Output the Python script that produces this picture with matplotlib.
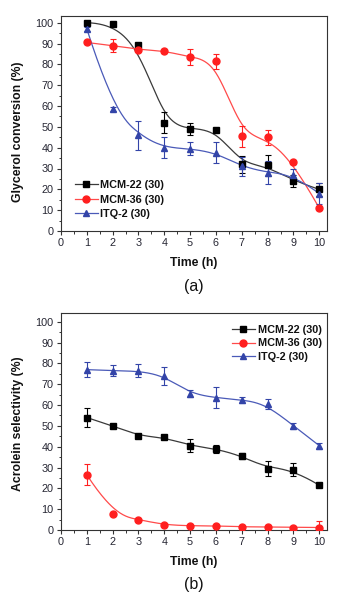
import numpy as np
import matplotlib
matplotlib.use("Agg")
import matplotlib.pyplot as plt
from matplotlib.lines import Line2D
from matplotlib.ticker import MultipleLocator

plt.rcParams['font.family'] = ['Liberation Sans', 'DejaVu Sans']

time_h = [1, 2, 3, 4, 5, 6, 7, 8, 9, 10]
series_names = ["MCM-22 (30)", "MCM-36 (30)", "ITQ-2 (30)"]

# Glycerol conversion (%) and error bars
conv_mcm22 = [100, 99.5, 89.5, 52, 49, 48.5, 32, 31.5, 24, 20]
conv_mcm22_err = [0.5, 0.5, 0.5, 5, 3, 0.5, 4, 5, 3, 3]
conv_mcm36 = [90.5, 89, 87, 86.5, 83.5, 81.5, 45.5, 45, 33, 11]
conv_mcm36_err = [0.5, 3, 0.5, 1, 4, 3.5, 5, 3.5, 1, 1]
conv_itq2 = [97, 58.5, 46, 40, 39.5, 37.5, 31, 28, 27, 18]
conv_itq2_err = [1, 1, 7, 5, 3, 5, 4.5, 5.5, 3, 5]

# Acrolein selectivity (%) and error bars
sel_mcm22 = [54, 50, 45, 44.5, 40.5, 39, 35.5, 29.5, 29, 21.5]
sel_mcm22_err = [4.5, 0.5, 0.5, 0.5, 3, 2, 1.5, 3.5, 3, 1]
sel_mcm36 = [26.5, 7.5, 5, 2.5, 2, 2, 1.5, 1.5, 1.2, 1.2]
sel_mcm36_err = [5, 0.5, 0.5, 0.5, 0.5, 0.5, 0.5, 0.5, 0.5, 3]
sel_itq2 = [77, 76.5, 76.5, 74, 65.5, 63.5, 62.5, 60.5, 50, 40.5]
sel_itq2_err = [3.5, 2.5, 3, 4.5, 1.5, 5, 1.5, 2.5, 1.5, 1.5]

marker_colors = ["#000000", "#ff1f1f", "#3344a8"]
line_colors = ["#3a3a3a", "#ff4a4a", "#4a5ab8"]
markers = ["s", "o", "^"]
text_color = "#262633"


def bspline(xs, ys, num=400):
    """Clamped cubic B-spline using the data points as control points."""
    P = np.column_stack([xs, ys]).astype(float)
    n = len(P)
    k = 3
    inner = np.arange(1, n - k)
    knots = np.concatenate([[0] * (k + 1), inner, [n - k] * (k + 1)]).astype(float)
    u = np.linspace(0, n - k, num)
    u[-1] -= 1e-9

    def basis(i, d, t):
        if d == 0:
            return ((knots[i] <= t) & (t < knots[i + 1])).astype(float)
        a = 0.0
        b = 0.0
        den1 = knots[i + d] - knots[i]
        den2 = knots[i + d + 1] - knots[i + 1]
        if den1 > 0:
            a = (t - knots[i]) / den1 * basis(i, d - 1, t)
        if den2 > 0:
            b = (knots[i + d + 1] - t) / den2 * basis(i + 1, d - 1, t)
        return a + b

    B = np.array([basis(i, k, u) for i in range(n)])
    pts = B.T @ P
    return pts[:, 0], pts[:, 1]


fig = plt.figure(figsize=(3.43, 6.0), dpi=100)

W, H = 343.0, 600.0
ax_a = fig.add_axes([61 / W, 1 - 231 / H, 266 / W, 215 / H])
ax_b = fig.add_axes([61 / W, 1 - 530 / H, 266 / W, 217 / H])


def style_axes(ax, ylim):
    ax.set_xlim(0, 10.3)
    ax.set_ylim(*ylim)
    ax.xaxis.set_major_locator(MultipleLocator(1))
    ax.xaxis.set_minor_locator(MultipleLocator(0.5))
    ax.yaxis.set_major_locator(MultipleLocator(10))
    ax.yaxis.set_minor_locator(MultipleLocator(5))
    for s in ax.spines.values():
        s.set_color("#333333")
        s.set_linewidth(0.8)
    ax.tick_params(which="major", direction="out", length=3.2, width=0.8,
                   labelsize=7.8, colors="#333333", labelcolor=text_color, pad=2)
    ax.tick_params(which="minor", direction="out", length=1.8, width=0.7,
                   colors="#333333")
    ax.tick_params(top=False, right=False, which="both")


def draw(ax, series):
    for (vals, errs), mc, lc, m in zip(series, marker_colors, line_colors, markers):
        sx, sy = bspline(time_h, vals)
        ax.plot(sx, sy, color=lc, lw=0.9, zorder=2)
        ax.errorbar(time_h, vals, yerr=errs, fmt="none", ecolor=mc,
                    elinewidth=0.8, capsize=2.2, capthick=0.8, zorder=3)
        ax.plot(time_h, vals, linestyle="none", marker=m, color=mc,
                markersize=5.0, zorder=4)


def legend(ax, anchor, spacing, textpad):
    handles = [Line2D([0], [0], color=lc, lw=0.9, marker=m, markerfacecolor=mc,
                      markeredgecolor=mc, markersize=5.0)
               for mc, lc, m in zip(marker_colors, line_colors, markers)]
    ax.legend(handles, series_names, loc="upper left", bbox_to_anchor=anchor,
              bbox_transform=fig.transFigure, frameon=False, borderpad=0,
              borderaxespad=0, handlelength=2.1, handletextpad=textpad,
              labelspacing=spacing,
              prop={"size": 7.8, "weight": "bold"}, labelcolor="#111111")


style_axes(ax_a, (0, 103.2))
draw(ax_a, [(conv_mcm22, conv_mcm22_err), (conv_mcm36, conv_mcm36_err),
            (conv_itq2, conv_itq2_err)])
legend(ax_a, (75 / W, 1 - 180 / H), 0.42, 0.25)

style_axes(ax_b, (0, 104.2))
draw(ax_b, [(sel_mcm22, sel_mcm22_err), (sel_mcm36, sel_mcm36_err),
            (sel_itq2, sel_itq2_err)])
legend(ax_b, (232 / W, 1 - 325 / H), 0.32, 0.3)

label_kw = dict(fontsize=8.8, fontweight="bold", color="#111111")
fig.text(18 / W, 1 - 132 / H, "Glycerol conversion (%)", rotation=90,
         ha="center", va="center", **label_kw)
fig.text(18 / W, 1 - 424 / H, "Acrolein selectivity (%)", rotation=90,
         ha="center", va="center", **label_kw)
fig.text(194 / W, 1 - 263 / H, "Time (h)", ha="center", va="center", **label_kw)
fig.text(194 / W, 1 - 562 / H, "Time (h)", ha="center", va="center", **label_kw)
fig.text(194 / W, 1 - 287 / H, "(a)", ha="center", va="center", fontsize=11.5,
         color="#111111")
fig.text(194 / W, 1 - 584 / H, "(b)", ha="center", va="center", fontsize=11.5,
         color="#111111")

fig.savefig("out.png", dpi=100)
